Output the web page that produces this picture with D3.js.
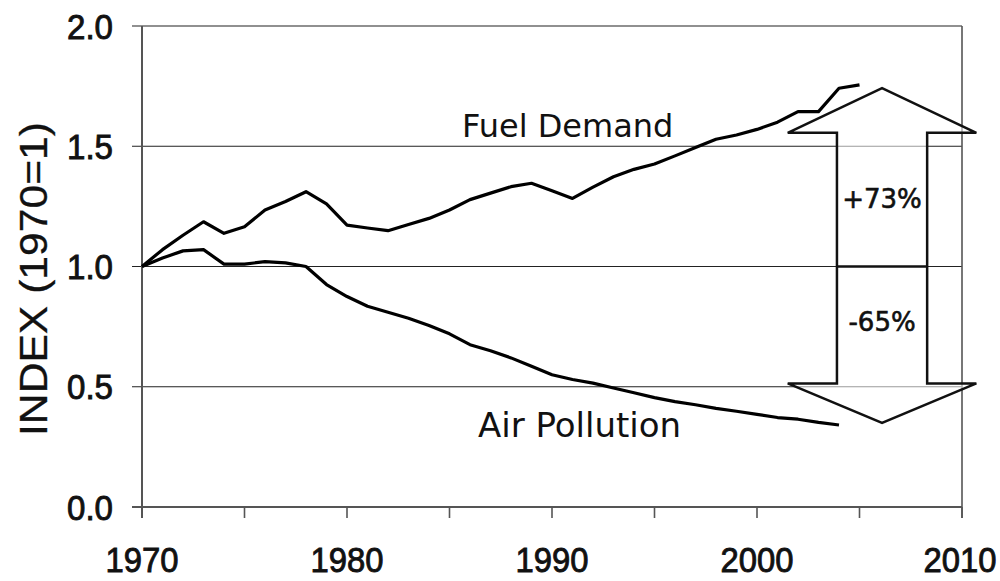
<!DOCTYPE html>
<html lang="en">
<head>
    <meta charset="UTF-8">
    <title>Fuel Demand vs Air Pollution</title>
    <script src="https://d3js.org/d3.v7.min.js"></script>
    <style>
        body { margin: 0; background: #fff; }
        .tick-label { font-family: "Liberation Sans", Arial, sans-serif; font-size: 35px; fill: #111; stroke: #111; stroke-width: 0.9px; }
        .series-label { font-family: "DejaVu Sans", Tahoma, sans-serif; fill: #111; }
        .line { fill: none; stroke: #000; stroke-width: 3.2px; stroke-linejoin: round; }
    </style>
</head>
<body>
    <svg id="chart"></svg>
    <script>
        const width = 1000, height = 581;

        const years = d3.range(1970, 2006);
        const fuelDemand = [1.00, 1.07, 1.13, 1.186, 1.138, 1.165, 1.235, 1.27, 1.311, 1.26,
            1.172, 1.16, 1.149, 1.175, 1.20, 1.235, 1.278, 1.305, 1.332, 1.346,
            1.315, 1.283, 1.33, 1.373, 1.404, 1.426, 1.46, 1.495, 1.529, 1.547,
            1.57, 1.60, 1.644, 1.644, 1.741, 1.755];
        const airPollution = [1.00, 1.035, 1.065, 1.07, 1.01, 1.01, 1.02, 1.015, 1.00, 0.925,
            0.875, 0.835, 0.81, 0.785, 0.755, 0.72, 0.675, 0.65, 0.62, 0.585,
            0.55, 0.53, 0.515, 0.495, 0.475, 0.455, 0.438, 0.425, 0.41, 0.398,
            0.385, 0.372, 0.365, 0.352, 0.341];
        const yTicks = [0, 0.5, 1.0, 1.5, 2.0];
        const xTicks = [1970, 1980, 1990, 2000, 2010];
        const xMinorTicks = d3.range(1970, 2011, 5);

        // change arrow, in data units
        const arrowYear = 2006.1, arrowShaft = 2.2, arrowHead = 4.6;
        const arrowTop = 1.742, arrowTopBase = 1.556, arrowBottom = 0.35, arrowBottomBase = 0.514;

        const margin = { left: 142, right: 38, top: 26, bottom: 74 };

        const svg = d3.select("#chart").attr("width", width).attr("height", height);

        const x = d3.scaleLinear().domain([1970, 2010]).range([margin.left, width - margin.right]);
        const y = d3.scaleLinear().domain([0, 2]).range([height - margin.bottom, margin.top]);

        // gridlines
        svg.append("g").selectAll("line")
            .data(yTicks.filter(d => d > 0))
            .join("line")
            .attr("x1", x(1970) - 10).attr("x2", x(2010))
            .attr("y1", d => y(d)).attr("y2", d => y(d))
            .attr("stroke", "#222").attr("stroke-width", 1.2);

        // axes frame
        svg.append("line").attr("x1", x(1970)).attr("x2", x(1970))
            .attr("y1", y(2)).attr("y2", y(0) + 11)
            .attr("stroke", "#555").attr("stroke-width", 2);
        svg.append("line").attr("x1", x(2010)).attr("x2", x(2010))
            .attr("y1", y(2)).attr("y2", y(0) + 11)
            .attr("stroke", "#555").attr("stroke-width", 1.6);
        svg.append("line").attr("x1", x(1970) - 10).attr("x2", x(2010))
            .attr("y1", y(0)).attr("y2", y(0))
            .attr("stroke", "#555").attr("stroke-width", 2);

        svg.append("g").selectAll("line")
            .data(xMinorTicks)
            .join("line")
            .attr("x1", d => x(d)).attr("x2", d => x(d))
            .attr("y1", y(0)).attr("y2", y(0) + 11)
            .attr("stroke", "#555").attr("stroke-width", 1.6);

        // tick labels
        svg.append("g").selectAll("text")
            .data(yTicks)
            .join("text")
            .attr("class", "tick-label")
            .attr("x", 113)
            .attr("y", d => y(d))
            .attr("dy", "0.36em")
            .attr("text-anchor", "end")
            .attr("textLength", 46)
            .attr("lengthAdjust", "spacingAndGlyphs")
            .text(d => d3.format(".1f")(d));

        svg.append("g").selectAll("text")
            .data(xTicks)
            .join("text")
            .attr("class", "tick-label")
            .attr("x", d => Math.min(x(d), width - 40))
            .attr("y", 572)
            .attr("text-anchor", "middle")
            .attr("textLength", 73)
            .attr("lengthAdjust", "spacingAndGlyphs")
            .text(d => d);

        svg.append("text")
            .attr("class", "tick-label")
            .attr("transform", "translate(47,279) rotate(-90)")
            .attr("text-anchor", "middle")
            .style("font-size", "38px")
            .style("stroke-width", "0.3px")
            .attr("textLength", 314)
            .attr("lengthAdjust", "spacingAndGlyphs")
            .text("INDEX (1970=1)");

        // series
        const line = d3.line().x(d => x(d[0])).y(d => y(d[1]));

        svg.append("path").attr("class", "line")
            .attr("d", line(years.map((yr, i) => [yr, fuelDemand[i]])));
        svg.append("path").attr("class", "line")
            .attr("d", line(airPollution.map((v, i) => [years[i], v])));

        svg.append("text").attr("class", "series-label")
            .attr("x", 462).attr("y", 137)
            .style("font-size", "32px")
            .text("Fuel Demand");
        svg.append("text").attr("class", "series-label")
            .attr("x", 478).attr("y", 437)
            .style("font-size", "34px")
            .text("Air Pollution");

        // double arrow
        const ax = d3.path();
        ax.moveTo(x(arrowYear), y(arrowTop));
        ax.lineTo(x(arrowYear + arrowHead), y(arrowTopBase));
        ax.lineTo(x(arrowYear + arrowShaft), y(arrowTopBase));
        ax.lineTo(x(arrowYear + arrowShaft), y(arrowBottomBase));
        ax.lineTo(x(arrowYear + arrowHead), y(arrowBottomBase));
        ax.lineTo(x(arrowYear), y(arrowBottom));
        ax.lineTo(x(arrowYear - arrowHead), y(arrowBottomBase));
        ax.lineTo(x(arrowYear - arrowShaft), y(arrowBottomBase));
        ax.lineTo(x(arrowYear - arrowShaft), y(arrowTopBase));
        ax.lineTo(x(arrowYear - arrowHead), y(arrowTopBase));
        ax.closePath();

        svg.append("path")
            .attr("d", ax.toString())
            .attr("fill", "#fff").attr("fill-opacity", 0.55)
            .attr("stroke", "#111").attr("stroke-width", 2.5)
            .attr("stroke-linejoin", "miter");

        svg.append("line")
            .attr("x1", x(arrowYear - arrowShaft)).attr("x2", x(arrowYear + arrowShaft))
            .attr("y1", y(1)).attr("y2", y(1))
            .attr("stroke", "#111").attr("stroke-width", 2.5);

        svg.append("text").attr("class", "series-label")
            .attr("x", x(arrowYear)).attr("y", y(1.245))
            .attr("text-anchor", "middle")
            .style("font-size", "26px")
            .style("stroke", "#111").style("stroke-width", "0.6px")
            .text("+73%");
        svg.append("text").attr("class", "series-label")
            .attr("x", x(arrowYear)).attr("y", y(0.73))
            .attr("text-anchor", "middle")
            .style("font-size", "26px")
            .style("stroke", "#111").style("stroke-width", "0.6px")
            .text("-65%");
    </script>
</body>
</html>
